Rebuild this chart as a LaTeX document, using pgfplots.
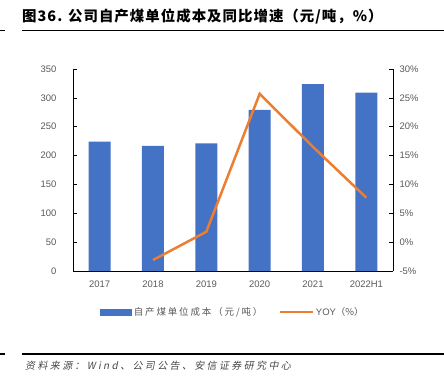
\documentclass[border=0pt]{standalone}
\usepackage{fontspec}
\usepackage{pgfplots}
\pgfplotsset{compat=1.18}
\setmainfont{Liberation Sans}
\newfontfamily\cjk{Noto Sans CJK SC}
\newfontfamily\cjktitle[LetterSpace=7]{Noto Sans CJK SC}
\newfontfamily\cjklegend[LetterSpace=20]{Noto Sans CJK SC}
\newfontfamily\cjksrc[LetterSpace=24,FakeSlant=0.2]{Noto Sans CJK SC}
\definecolor{barblue}{HTML}{4472C4}
\definecolor{lineorange}{HTML}{ED7D31}
\definecolor{txtgray}{HTML}{595959}
\begin{document}
\begin{tikzpicture}
\path[use as bounding box] (0,0) rectangle (444bp,-377bp);
\node[anchor=west, inner sep=0, font={\fontsize{14.5}{16}\cjktitle\bfseries}] at (22bp,-17bp) {图36. 公司自产煤单位成本及同比增速（元/吨，\%）};
\draw[line width=1.3bp] (22bp,-30.5bp) -- (444bp,-30.5bp);
\draw[line width=1.3bp] (0bp,-30.5bp) -- (5bp,-30.5bp);
\draw[line width=1.3bp] (22bp,-354bp) -- (444bp,-354bp);
\draw[line width=1.3bp] (0bp,-354bp) -- (5bp,-354bp);
\node[anchor=west, inner sep=0, text=txtgray!80!black, font={\fontsize{10}{12}\cjksrc}] at (25bp,-366bp) {资料来源：Wind、公司公告、安信证券研究中心};

\begin{axis}[
  scale only axis, width=320bp, height=202bp,
  at={(73bp,-271bp)}, anchor=south west,
  xmin=-0.5, xmax=5.5, ymin=0, ymax=350,
  ytick={0,50,...,350},
  xtick={0,...,5},
  xticklabels={2017,2018,2019,2020,2021,2022H1},
  axis y line*=left, axis x line*=bottom,
  axis line style={black, line width=0.8bp},
  tick align=inside,
  major tick length=4bp,
  xtick style={draw=none},
  extra x ticks={-0.5,0.5,1.5,2.5,3.5,4.5,5.5},
  extra x tick labels={},
  extra x tick style={tick style={black, line width=0.6bp, draw=black}, major tick length=3bp},
  ytick style={black, line width=0.6bp},
  /pgf/number format/assume math mode=true,
  tick label style={text=txtgray, font=\fontsize{9.5}{11}\selectfont},
  yticklabel style={xshift=-13bp},
  xticklabel style={yshift=-6bp},
]
\addplot[ybar, bar width=22bp, fill=barblue, draw=none] coordinates {(0,224) (1,217) (2,221) (3,279) (4,324) (5,309)};
\end{axis}

\begin{axis}[
  scale only axis, width=320bp, height=202bp,
  at={(73bp,-271bp)}, anchor=south west,
  xmin=-0.5, xmax=5.5, ymin=-5, ymax=30,
  ytick={-5,0,...,30},
  yticklabel={\pgfmathprintnumber{\tick}\%},
  axis y line*=right, axis x line=none,
  axis line style={black, line width=0.8bp},
  tick align=inside,
  major tick length=4bp,
  ytick style={black, line width=0.6bp},
  /pgf/number format/assume math mode=true,
  tick label style={text=txtgray, font=\fontsize{9.5}{11}\selectfont},
  yticklabel style={xshift=3bp},
  legend style={at={(0.5,-0.203)}, anchor=center, draw=none, fill=none,
    legend columns=2, font={\fontsize{9.5}{11}\selectfont}, text=txtgray,
    /tikz/every even column/.append style={column sep=14bp}},
  legend cell align=left,
]
\addlegendimage{legend image code/.code={\fill[barblue] (0bp,-3bp) rectangle (31bp,3bp);}}
\addlegendentry{\cjklegend 自产煤单位成本（元/吨）}
\addplot[lineorange, line width=2.5bp, legend image code/.code={\draw[lineorange, line width=2.5bp] (0bp,0bp) -- (33bp,0bp);}] coordinates {(1,-3.1) (2,1.8) (3,25.7) (4,16.5) (5,7.7)};
\addlegendentry{YOY{\cjk（\%）}}
\end{axis}
\end{tikzpicture}
\end{document}
